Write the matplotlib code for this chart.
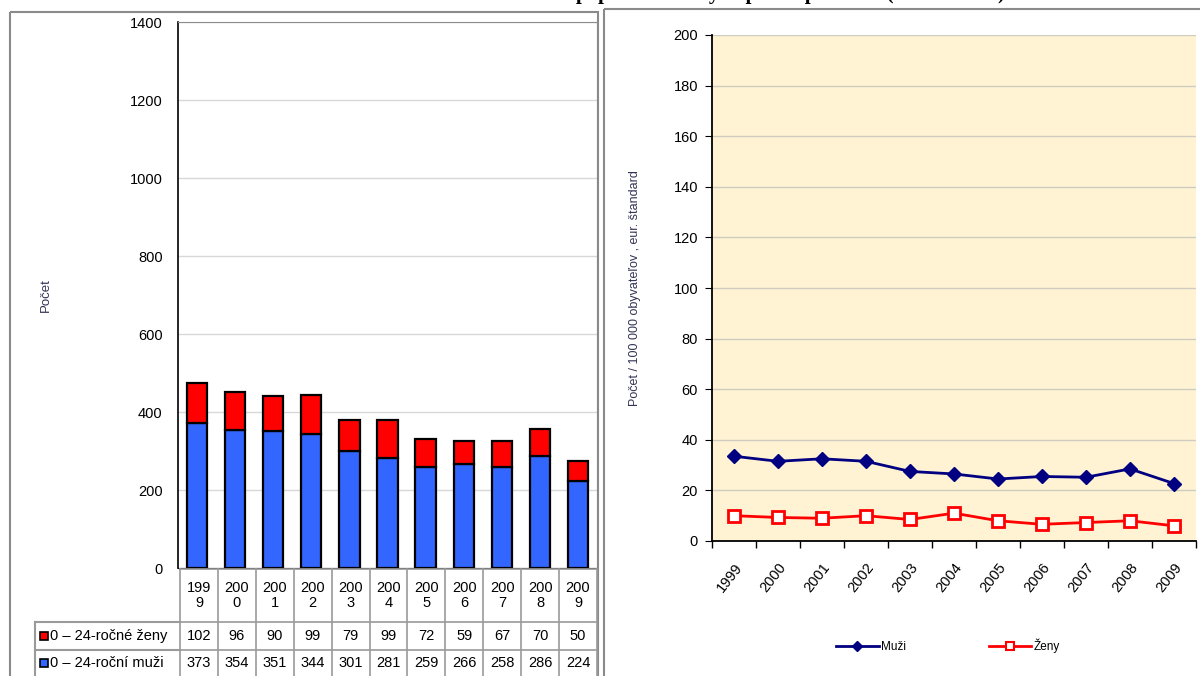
import matplotlib
matplotlib.use("Agg")
import matplotlib.pyplot as plt
from matplotlib.patches import Rectangle
from matplotlib.lines import Line2D

plt.rcParams['font.family'] = ['Liberation Sans', 'DejaVu Sans']

# ---- data ----
years = ['1999', '2000', '2001', '2002', '2003', '2004', '2005', '2006', '2007', '2008', '2009']
zeny_pocet = [102, 96, 90, 99, 79, 99, 72, 59, 67, 70, 50]
muzi_pocet = [373, 354, 351, 344, 301, 281, 259, 266, 258, 286, 224]
muzi_miera = [33.5, 31.5, 32.5, 31.5, 27.5, 26.5, 24.5, 25.5, 25.2, 28.5, 22.7]
zeny_miera = [10.0, 9.3, 9.0, 10.0, 8.5, 11.0, 8.0, 6.6, 7.3, 8.0, 6.0]
label_zeny_pocet = '0 – 24-ročné ženy'
label_muzi_pocet = '0 – 24-roční muži'

W, H = 1200, 676
fig = plt.figure(figsize=(W / 100, H / 100), dpi=100)


def px_box(x0, y0, x1, y1):
    return [x0 / W, 1 - y1 / H, (x1 - x0) / W, (y1 - y0) / H]


# overlay in pixel coordinates for frames, table and heading
ov = fig.add_axes([0, 0, 1, 1], zorder=5)
ov.set_xlim(0, W)
ov.set_ylim(H, 0)
ov.axis('off')
ov.patch.set_alpha(0)

# ---- left: stacked bar chart ----
ax1 = fig.add_axes(px_box(178, 22, 597, 568))
x = range(len(years))
ax1.bar(x, muzi_pocet, width=0.53, color='#3366FF', edgecolor='black', linewidth=1.6, zorder=3)
ax1.bar(x, zeny_pocet, bottom=muzi_pocet, width=0.53, color='#FF0000', edgecolor='black',
        linewidth=1.6, zorder=3)
ax1.set_xlim(-0.5, len(years) - 0.5)
ax1.set_ylim(0, 1400)
ax1.set_yticks(range(0, 1401, 200))
ax1.tick_params(axis='y', length=0, pad=11, labelsize=10.5)
ax1.set_xticks([])
ax1.grid(axis='y', color='#D8D8D8', linewidth=1, zorder=0)
for s in ['top', 'right']:
    ax1.spines[s].set_color('#8C8C8C')
ax1.spines['left'].set_color('black')
ax1.spines['left'].set_linewidth(1.2)
ax1.spines['bottom'].set_color('black')
ax1.set_ylabel('Počet', fontsize=9.5, color='#333355')
ax1.yaxis.set_label_coords((52 - 178) / 419, 0.5)

# data table under the bars
col_w = (597 - 180) / len(years)
t_top, t_mid1, t_mid2, t_bot = 569, 622, 650, 678
grid_c = '#9A9A9A'
for i, (yr, zv, mv) in enumerate(zip(years, zeny_pocet, muzi_pocet)):
    cx = 180 + col_w * (i + 0.5)
    ov.text(cx, (t_top + t_mid1) / 2, yr[:3] + '\n' + yr[3:], ha='center', va='center',
            fontsize=10.5, linespacing=1.05)
    ov.text(cx, (t_mid1 + t_mid2) / 2, str(zv), ha='center', va='center', fontsize=10.5)
    ov.text(cx, (t_mid2 + t_bot) / 2 - 1, str(mv), ha='center', va='center', fontsize=10.5)
for i in range(len(years) + 1):
    xx = 180 + col_w * i
    ov.plot([xx, xx], [t_top, t_bot], color=grid_c, lw=1.2)
for yy in [t_top, t_mid1, t_mid2]:
    ov.plot([180, 597], [yy, yy], color=grid_c, lw=1.2)
for yy in [t_mid1, t_mid2]:
    ov.plot([35, 180], [yy, yy], color=grid_c, lw=1.5)
ov.plot([35, 35], [t_mid1, t_bot], color=grid_c, lw=1.5)
for yy, col, lab in [((t_mid1 + t_mid2) / 2, '#FF0000', label_zeny_pocet),
                     ((t_mid2 + t_bot) / 2 - 1, '#3366FF', label_muzi_pocet)]:
    ov.add_patch(Rectangle((40, yy - 4), 8, 8, facecolor=col, edgecolor='black', lw=1.2))
    ov.text(50, yy, lab, ha='left', va='center', fontsize=10.5)

# left panel frame
ov.add_patch(Rectangle((10, 12), 588, 700, fill=False, edgecolor='#8A8A8A', lw=1.5))

# ---- right: rate lines ----
ax2 = fig.add_axes(px_box(712, 35, 1196, 541))
ax2.set_facecolor('#FFF3D4')
ax2.plot(x, muzi_miera, color='#000080', lw=2, marker='D', markersize=7.5,
         markerfacecolor='#000080', markeredgecolor='#000080', label='Muži', zorder=4)
ax2.plot(x, zeny_miera, color='#FF0000', lw=2, marker='s', markersize=8.5,
         markerfacecolor='white', markeredgecolor='#FF0000', markeredgewidth=2,
         label='Ženy', zorder=4)
ax2.set_xlim(-0.5, len(years) - 0.5)
ax2.set_ylim(0, 200)
ax2.set_yticks(range(0, 201, 20))
ax2.grid(axis='y', color='#CFCBBE', linewidth=1, zorder=0)
ax2.set_xticks(list(x))
ax2.set_xticklabels(years, rotation=52, ha='right', va='top', rotation_mode='anchor',
                    fontsize=10.5)
ax2.set_xticks([i - 0.5 for i in range(len(years) + 1)], minor=True)
ax2.tick_params(axis='x', which='major', length=0, pad=14)
ax2.tick_params(axis='x', which='minor', length=5, direction='out', width=1)
ax2.tick_params(axis='y', length=5, direction='out', labelsize=10.5, pad=5)
for s in ['top', 'right']:
    ax2.spines[s].set_visible(False)
ax2.spines['left'].set_linewidth(1.3)
ax2.spines['bottom'].set_linewidth(1.3)
ax2.set_ylabel('Počet / 100 000 obyvateľov , eur. štandard', fontsize=9, color='#333355')
ax2.yaxis.set_label_coords((641 - 712) / 484, 0.5)

handles = [Line2D([], [], color='#000080', lw=2, marker='D', markersize=5),
           Line2D([], [], color='#FF0000', lw=2, marker='s', markersize=6,
                  markerfacecolor='white', markeredgewidth=1.5)]
fig.legend(handles, ['Muži', 'Ženy'], loc='center', bbox_to_anchor=(948 / W, 1 - 646 / H),
           ncol=2, frameon=False, fontsize=8.5, handlelength=3.6, handletextpad=0.2,
           columnspacing=7)

# right panel frame
ov.add_patch(Rectangle((604, 9), 700, 700, fill=False, edgecolor='#8A8A8A', lw=1.5))

# heading (runs off the top edge)
ov.text(735, -1, 'Úmrtnosť v populácii mladých podľa pohlavia (1999 – 2009)', ha='center',
        va='baseline', fontsize=15, fontweight='bold', family=['Liberation Serif'])

fig.savefig('out.png', dpi=100)
